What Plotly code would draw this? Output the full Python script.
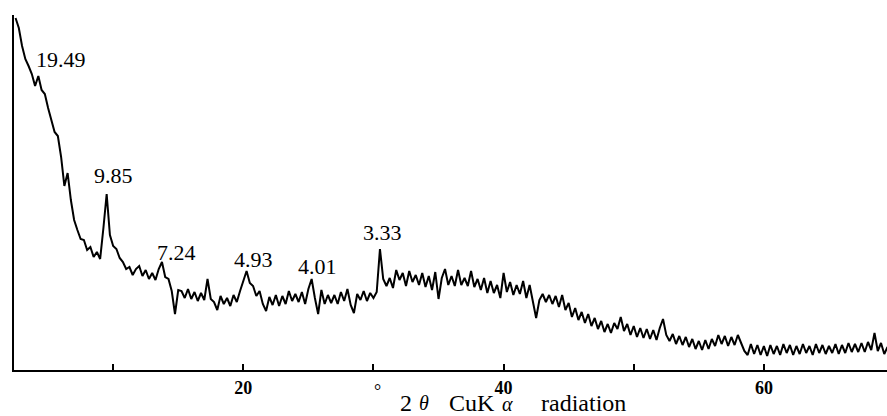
import plotly.graph_objects as go

# XRD scan: 2-theta (degrees, CuK-alpha) and relative intensity (arbitrary units)
two_theta = [
    2.5, 2.75,
    3.0, 3.25, 3.5, 3.75, 4.0, 4.25, 4.5, 4.75, 5.0, 5.25, 5.5, 5.75,
    6.0, 6.25, 6.5, 6.75, 7.0, 7.25, 7.5, 7.75, 8.0, 8.25, 8.5, 8.75,
    9.0, 9.25, 9.5, 9.75, 10.0, 10.25, 10.5, 10.75, 11.0, 11.25, 11.5, 11.75,
    12.0, 12.25, 12.5, 12.75, 13.0, 13.25, 13.5, 13.75, 14.0, 14.25, 14.5, 14.75,
    15.0, 15.25, 15.5, 15.75, 16.0, 16.25, 16.5, 16.75, 17.0, 17.25, 17.5, 17.75,
    18.0, 18.25, 18.5, 18.75, 19.0, 19.25, 19.5, 19.75, 20.0, 20.25, 20.5, 20.75,
    21.0, 21.25, 21.5, 21.75, 22.0, 22.25, 22.5, 22.75, 23.0, 23.25, 23.5, 23.75,
    24.0, 24.25, 24.5, 24.75, 25.0, 25.25, 25.5, 25.75, 26.0, 26.25, 26.5, 26.75,
    27.0, 27.25, 27.5, 27.75, 28.0, 28.25, 28.5, 28.75, 29.0, 29.25, 29.5, 29.75,
    30.0, 30.25, 30.5, 30.75, 31.0, 31.25, 31.5, 31.75, 32.0, 32.25, 32.5, 32.75,
    33.0, 33.25, 33.5, 33.75, 34.0, 34.25, 34.5, 34.75, 35.0, 35.25, 35.5, 35.75,
    36.0, 36.25, 36.5, 36.75, 37.0, 37.25, 37.5, 37.75, 38.0, 38.25, 38.5, 38.75,
    39.0, 39.25, 39.5, 39.75, 40.0, 40.25, 40.5, 40.75, 41.0, 41.25, 41.5, 41.75,
    42.0, 42.25, 42.5, 42.75, 43.0, 43.25, 43.5, 43.75, 44.0, 44.25, 44.5, 44.75,
    45.0, 45.25, 45.5, 45.75, 46.0, 46.25, 46.5, 46.75, 47.0, 47.25, 47.5, 47.75,
    48.0, 48.25, 48.5, 48.75, 49.0, 49.25, 49.5, 49.75, 50.0, 50.25, 50.5, 50.75,
    51.0, 51.25, 51.5, 51.75, 52.0, 52.25, 52.5, 52.75, 53.0, 53.25, 53.5, 53.75,
    54.0, 54.25, 54.5, 54.75, 55.0, 55.25, 55.5, 55.75, 56.0, 56.25, 56.5, 56.75,
    57.0, 57.25, 57.5, 57.75, 58.0, 58.25, 58.5, 58.75, 59.0, 59.25, 59.5, 59.75,
    60.0, 60.25, 60.5, 60.75, 61.0, 61.25, 61.5, 61.75, 62.0, 62.25, 62.5, 62.75,
    63.0, 63.25, 63.5, 63.75, 64.0, 64.25, 64.5, 64.75, 65.0, 65.25, 65.5, 65.75,
    66.0, 66.25, 66.5, 66.75, 67.0, 67.25, 67.5, 67.75, 68.0, 68.25, 68.5, 68.75,
    69.0, 69.25, 69.5,
]

intensity = [
    352, 342,
    324, 311, 304, 296, 284, 294, 280, 276, 262, 250, 238, 234,
    213, 184, 197, 170, 150, 140, 131, 130, 120, 123, 113, 118,
    111, 142, 176, 135, 124, 121, 112, 108, 101, 103, 95, 101,
    104, 94, 100, 91, 97, 90, 101, 108, 93, 91, 79, 56,
    80, 79, 72, 81, 71, 78, 69, 77, 70, 91, 71, 68,
    60, 74, 66, 72, 64, 75, 68, 79, 90, 99, 87, 84,
    74, 79, 66, 59, 73, 65, 75, 64, 74, 66, 79, 69,
    76, 68, 78, 66, 81, 91, 72, 56, 80, 66, 75, 67,
    75, 66, 78, 69, 81, 65, 57, 76, 70, 79, 69, 77,
    72, 78, 121, 91, 84, 92, 82, 100, 90, 97, 84, 99,
    88, 95, 85, 97, 83, 94, 80, 98, 71, 92, 101, 85,
    94, 84, 100, 85, 92, 84, 99, 83, 91, 80, 92, 77,
    89, 77, 85, 72, 97, 78, 88, 75, 85, 76, 89, 72,
    85, 68, 52, 70, 76, 68, 75, 66, 74, 63, 75, 60,
    67, 53, 62, 50, 58, 47, 56, 44, 52, 41, 49, 38,
    46, 37, 47, 41, 53, 39, 46, 35, 44, 33, 42, 32,
    41, 31, 40, 30, 42, 51, 35, 29, 36, 26, 34, 25,
    33, 23, 31, 21, 29, 20, 30, 21, 31, 24, 35, 26,
    34, 24, 33, 25, 35, 27, 19, 15, 26, 16, 25, 15,
    24, 14, 25, 16, 24, 15, 26, 17, 25, 15, 24, 16,
    26, 17, 24, 15, 26, 17, 25, 16, 24, 17, 26, 16,
    25, 17, 27, 18, 26, 18, 27, 18, 28, 20, 37, 19,
    27, 16, 23,
]

# d-spacing labels (angstrom) and where they sit (2-theta, intensity)
peak_labels = ["19.49", "9.85", "7.24", "4.93", "4.01", "3.33"]
label_theta = [5.99, 10.06, 14.83, 20.82, 25.73, 30.72]
label_int = [311, 195, 118, 111, 104, 138]

tick_vals = [10, 20, 30, 40, 50, 60]
tick_text = ["", "20", "", "40", "", "60"]

# axis title pieces: (text, paper x, paper y, font size)
title_parts = [
    ("°", 0.416, -0.06, 18),
    ("2", 0.449, -0.093, 24),
    ("<i>θ</i>", 0.470, -0.093, 20),
    ("CuK", 0.525, -0.093, 24),
    ("<i>α</i>", 0.565, -0.096, 20),
    ("radiation", 0.652, -0.093, 24),
]

SERIF = "Liberation Serif, Times New Roman, serif"

fig = go.Figure()
fig.add_trace(go.Scatter(
    x=two_theta, y=intensity, mode="lines",
    line=dict(color="black", width=2),
    hoverinfo="skip", showlegend=False,
))

for txt, xv, yv in zip(peak_labels, label_theta, label_int):
    fig.add_annotation(x=xv, y=yv, text=txt, showarrow=False,
                       xanchor="center", yanchor="middle",
                       font=dict(family=SERIF, size=22, color="black"))

for txt, xp, yp, fs in title_parts:
    fig.add_annotation(xref="paper", yref="paper", x=xp, y=yp, text=txt,
                       showarrow=False, xanchor="center", yanchor="middle",
                       font=dict(family=SERIF, size=fs, color="black"))

fig.update_layout(
    width=887, height=416,
    margin=dict(l=14, r=0, t=15, b=46),
    paper_bgcolor="white", plot_bgcolor="white",
    xaxis=dict(range=[2.38, 69.46], showline=True, linecolor="black", linewidth=2,
               ticks="inside", ticklen=6, tickwidth=1.5, tickcolor="black",
               tickvals=tick_vals, ticktext=tick_text,
               tickfont=dict(family=SERIF, size=18, color="black", weight="bold"),
               showgrid=False, zeroline=False, fixedrange=True),
    yaxis=dict(range=[0, 355], showline=True, linecolor="black", linewidth=2,
               showticklabels=False, ticks="", showgrid=False, zeroline=False,
               fixedrange=True),
)

fig.write_html("out.html", config={"displayModeBar": False},
               post_script="document.body.style.margin='0';document.body.style.overflow='hidden';")
